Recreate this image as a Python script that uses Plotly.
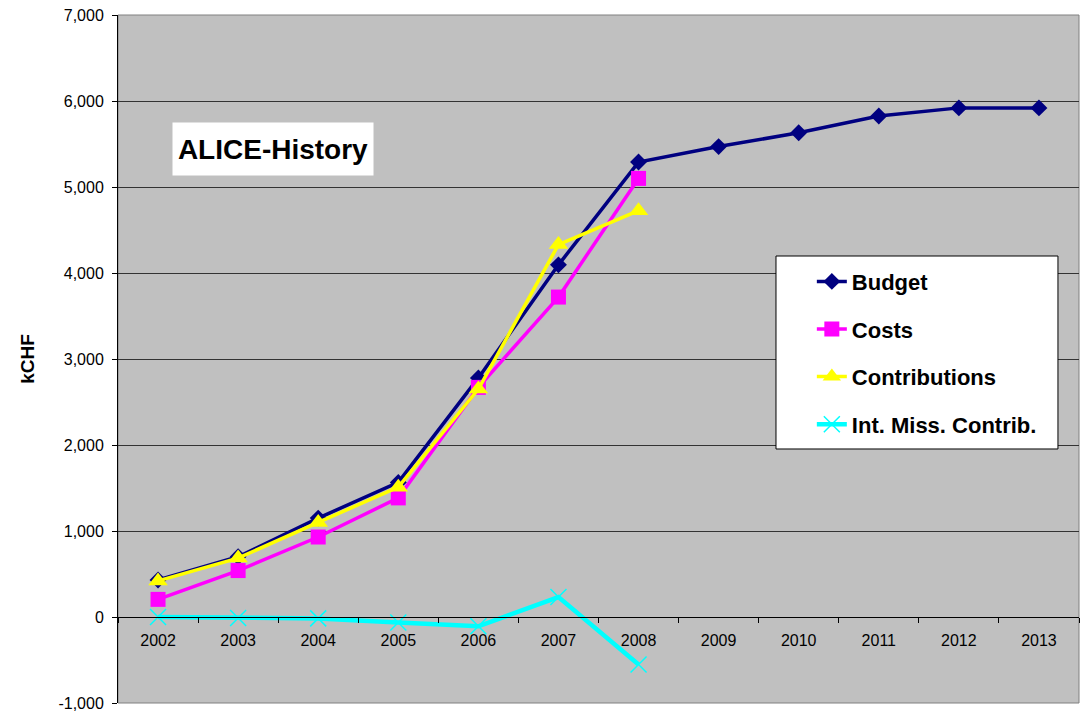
import plotly.graph_objects as go

years = ["2002", "2003", "2004", "2005", "2006", "2007", "2008",
         "2009", "2010", "2011", "2012", "2013"]
budget = [430, 700, 1150, 1565, 2780, 4095, 5290, 5470, 5630, 5825, 5920, 5920]
costs = [205, 540, 930, 1385, 2670, 3720, 5100]
contributions = [420, 685, 1100, 1510, 2650, 4330, 4725]
int_miss = [0, -12, -16, -65, -108, 232, -552]

y_ticks = [-1000, 0, 1000, 2000, 3000, 4000, 5000, 6000, 7000]
y_tick_text = ["-1,000", "0", "1,000", "2,000", "3,000", "4,000", "5,000",
               "6,000", "7,000"]

FONT = "Liberation Sans, Arial, sans-serif"

fig = go.Figure()
fig.add_trace(go.Scatter(
    x=years, y=budget, name="Budget", mode="lines+markers",
    line=dict(color="#000080", width=3.5),
    marker=dict(symbol="diamond", size=13, color="#000080", line=dict(width=0)),
    legendgroup="a"))
fig.add_trace(go.Scatter(
    x=years[:len(costs)], y=costs, name="Costs", mode="lines+markers",
    line=dict(color="#FF00FF", width=3.5),
    marker=dict(symbol="square", size=15, color="#FF00FF", line=dict(width=0)),
    legendgroup="b"))
fig.add_trace(go.Scatter(
    x=years[:len(contributions)], y=contributions, name="Contributions",
    mode="lines+markers",
    line=dict(color="#FFFF00", width=3.5),
    marker=dict(symbol="triangle-up", size=17, color="#FFFF00", line=dict(width=0)),
    legendgroup="c"))
fig.add_trace(go.Scatter(
    x=years[:len(int_miss)], y=int_miss, name="Int. Miss. Contrib.",
    mode="lines+markers",
    line=dict(color="#00FFFF", width=4.5),
    marker=dict(symbol="x-thin", size=16, color="#00FFFF",
                line=dict(width=1.5, color="#00FFFF")),
    legendgroup="d"))

fig.update_layout(
    width=1083, height=712,
    margin=dict(l=118, r=4, t=15, b=9, autoexpand=False),
    paper_bgcolor="white",
    plot_bgcolor="#C0C0C0",
    font=dict(family=FONT, color="black", size=16),
    showlegend=True,
    legend=dict(
        x=0.722, y=0.643, xanchor="left", yanchor="top",
        bgcolor="rgba(0,0,0,0)", borderwidth=0,
        font=dict(family=FONT, size=22, color="black", weight="bold"),
        traceorder="grouped", tracegroupgap=16,
    ),
    xaxis=dict(
        type="category", range=[-0.5, 11.5],
        anchor="free", position=0.125, automargin=False,
        showgrid=False, zeroline=False,
        showline=True, linecolor="black", linewidth=1,
        ticks="outside", tickson="boundaries", ticklen=5,
        tickcolor="black", tickwidth=1,
        ticklabelstandoff=9,
        tickfont=dict(family=FONT, size=16, color="black"),
    ),
    yaxis=dict(
        range=[-1000, 7000], automargin=False,
        tickvals=y_ticks, ticktext=y_tick_text,
        showgrid=True, gridcolor="#333333", gridwidth=1,
        zeroline=False,
        showline=True, linecolor="black", linewidth=1,
        ticks="outside", ticklen=5, tickcolor="black",
        ticklabelstandoff=5,
        tickfont=dict(family=FONT, size=16, color="black"),
        title=dict(text="<b>kCHF</b>", standoff=18,
                   font=dict(family=FONT, size=19, color="black")),
    ),
    shapes=[
        dict(type="rect", xref="paper", yref="paper", x0=0, x1=1, y0=0, y1=1,
             line=dict(color="#808080", width=1), fillcolor="rgba(0,0,0,0)",
             layer="below"),
        dict(type="rect", xref="paper", yref="paper",
             x0=0.6847, x1=0.9781, y0=0.3692, y1=0.6497,
             line=dict(color="black", width=1), fillcolor="white", layer="above"),
    ],
    annotations=[
        dict(text="<b>ALICE-History</b>", xref="paper", yref="paper",
             x=0.161, y=0.805, xanchor="center", yanchor="middle",
             showarrow=False, bgcolor="white", width=196, height=48, borderpad=2,
             font=dict(family=FONT, size=28, color="black")),
    ],
)

fig.write_html("out.html")
